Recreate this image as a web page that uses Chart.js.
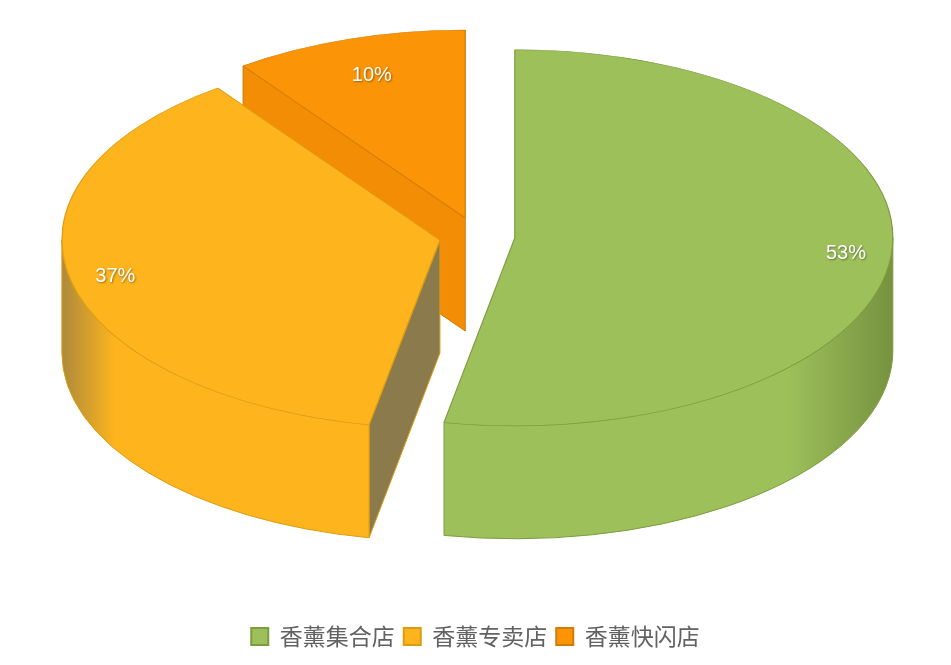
<!DOCTYPE html>
<html>
<head>
<meta charset="utf-8">
<script src="https://cdn.jsdelivr.net/npm/chart.js@4.4.0/dist/chart.umd.min.js"></script>
<style>
  body { margin: 0; background: #ffffff; }
  #chart { width: 951px; height: 665px; }
</style>
</head>
<body>
<div id="chart"><canvas id="myChart"></canvas></div>
<script>
// data
const labels = ["香薰集合店", "香薰专卖店", "香薰快闪店"];
const shares = [53, 37, 10];

// colours
const topColors = ["#9ec05b", "#fdb41d", "#fc9407"];
const edgeColors = ["#7c9c3e", "#dc9c12", "#d27b05"];
const cutColors = ["#7f9a48", "#8a7a4c", "#f38d06"];
const wallShade = ["#76923f", "#ad8a3c", "#c97a08"];

// fake 3d geometry (screen pixels)
const CX = 477, CY = 236, RX = 378, RY = 188;
const EXPLODE = 38, DEPTH = 113;

function frontRanges(a0, a1) {
    const out = [];
    for (let k = -1; k <= 1; k++) {
        const lo = Math.max(a0, 2 * Math.PI * k);
        const hi = Math.min(a1, Math.PI + 2 * Math.PI * k);
        if (hi > lo) out.push([lo, hi]);
    }
    return out;
}

const pie3d = {
    id: "pie3d",
    beforeDatasetDraw(chart, args) {
        const ctx = chart.ctx;
        const arcs = args.meta.data;
        const R = arcs[0].outerRadius;
        const sx = RX / R, sy = RY / R;
        const centers = [];

        [2, 1, 0].forEach(i => {
            const arc = arcs[i];
            const a0 = arc.startAngle, a1 = arc.endAngle;
            const mid = (a0 + a1) / 2;
            const ox = CX + Math.cos(mid) * EXPLODE;
            const oy = CY + Math.sin(mid) * EXPLODE * RY / RX;
            centers[i] = [ox, oy, mid];
            const pt = (a, dz) => [ox + Math.cos(a) * RX, oy + Math.sin(a) * RY + dz];

            ctx.save();
            ctx.lineWidth = 1;
            ctx.strokeStyle = edgeColors[i];
            ctx.lineJoin = "round";

            // cut faces that look toward us
            [[a0, Math.cos(a0) < -0.01], [a1, Math.cos(a1) > 0.01]].forEach(([a, show]) => {
                if (!show) return;
                const p = pt(a, 0), q = pt(a, DEPTH);
                ctx.beginPath();
                ctx.moveTo(ox, oy);
                ctx.lineTo(p[0], p[1]);
                ctx.lineTo(q[0], q[1]);
                ctx.lineTo(ox, oy + DEPTH);
                ctx.closePath();
                ctx.fillStyle = cutColors[i];
                ctx.fill();
                ctx.stroke();
            });

            // outer wall
            frontRanges(a0, a1).forEach(([lo, hi]) => {
                const g = ctx.createLinearGradient(ox - RX, 0, ox + RX, 0);
                g.addColorStop(0, wallShade[i]);
                g.addColorStop(0.07, topColors[i]);
                g.addColorStop(0.86, topColors[i]);
                g.addColorStop(1, wallShade[i]);
                ctx.beginPath();
                ctx.ellipse(ox, oy, RX, RY, 0, lo, hi);
                ctx.ellipse(ox, oy + DEPTH, RX, RY, 0, hi, lo, true);
                ctx.closePath();
                ctx.fillStyle = g;
                ctx.fill();
                ctx.stroke();
            });
            ctx.restore();

            // top face: the library's own arc, squashed into an ellipse
            ctx.save();
            ctx.translate(ox, oy);
            ctx.scale(sx, sy);
            ctx.translate(-arc.x, -arc.y);
            arc.draw(ctx);
            ctx.restore();
        });

        // percentage labels
        const total = shares.reduce((s, v) => s + v, 0);
        ctx.save();
        ctx.font = "20px 'Liberation Sans', Arial, sans-serif";
        ctx.textAlign = "center";
        ctx.textBaseline = "middle";
        ctx.fillStyle = "#ffffff";
        ctx.shadowColor = "rgba(0,0,0,0.4)";
        ctx.shadowBlur = 2;
        ctx.shadowOffsetX = 1;
        ctx.shadowOffsetY = 1;
        shares.forEach((v, i) => {
            const [ox, oy, mid] = centers[i];
            // back of the pie looks flatter in the original, so pull labels there in a bit
            const f = Math.sin(mid) < 0 ? 0.8 : 0.88;
            const x = ox + Math.cos(mid) * RX * f;
            const y = oy + Math.sin(mid) * RY * f;
            ctx.fillText(Math.round(v / total * 100) + "%", x, y);
        });
        ctx.restore();
        return false;
    }
};

const ctx = document.getElementById("myChart").getContext("2d");

const config = {
    type: "pie",
    data: {
        labels,
        datasets: [{
            data: shares,
            backgroundColor: topColors,
            borderColor: edgeColors,
            borderWidth: 1,
        }],
    },
    options: {
        responsive: true,
        maintainAspectRatio: false,
        animation: false,
        layout: { padding: { bottom: 7 } },
        plugins: {
            tooltip: { enabled: false },
            legend: {
                position: "bottom",
                labels: {
                    boxWidth: 17,
                    boxHeight: 17,
                    padding: 9,
                    color: "#626262",
                    font: { family: "'Noto Sans CJK SC', sans-serif", size: 23 },
                    generateLabels(chart) {
                        const items = Chart.overrides.pie.plugins.legend.labels.generateLabels(chart);
                        items.forEach(it => { it.lineWidth = 2; });
                        return items;
                    },
                },
            },
        },
    },
    plugins: [pie3d],
};

const myChart = new Chart(ctx, config);
</script>
</body>
</html>
